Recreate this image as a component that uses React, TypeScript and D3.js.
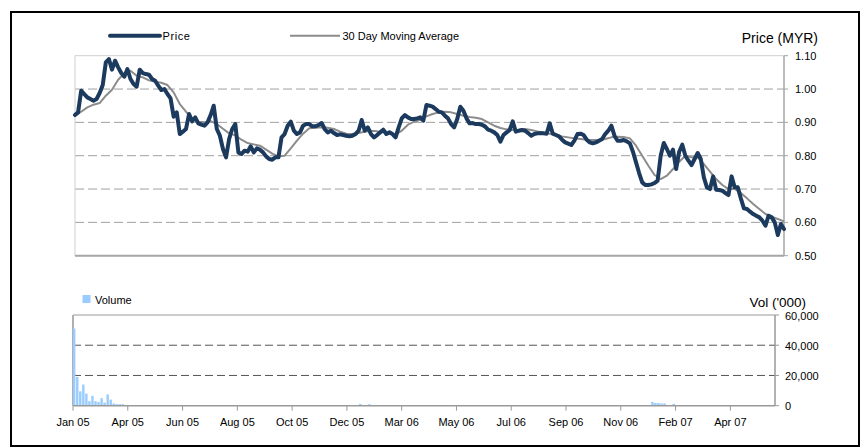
import React from 'react';
import * as d3 from 'd3';

// daily closing price (MYR), one value per step on the category axis
const priceValues = [
  0.922, 0.930, 0.995, 0.985, 0.975, 0.970, 0.965, 0.970, 0.988, 1.012,
  1.080, 1.090, 1.058, 1.085, 1.065, 1.048, 1.037, 1.060, 1.030, 1.015,
  1.007, 1.058, 1.048, 1.045, 1.043, 1.030, 1.025, 1.010, 0.997, 1.000,
  0.985, 0.972, 0.917, 0.930, 0.865, 0.872, 0.880, 0.925, 0.903, 0.915,
  0.897, 0.893, 0.890, 0.900, 0.922, 0.950, 0.880, 0.860, 0.820, 0.795,
  0.850, 0.880, 0.895, 0.810, 0.805, 0.815, 0.812, 0.828, 0.810, 0.822,
  0.818, 0.810, 0.798, 0.790, 0.788, 0.795, 0.795, 0.855, 0.865, 0.890,
  0.902, 0.875, 0.865, 0.870, 0.890, 0.895, 0.895, 0.888, 0.888, 0.892,
  0.898, 0.880, 0.870, 0.875, 0.868, 0.862, 0.864, 0.862, 0.860, 0.858,
  0.860, 0.865, 0.875, 0.907, 0.875, 0.885, 0.865, 0.855, 0.862, 0.870,
  0.878, 0.865, 0.870, 0.865, 0.855, 0.885, 0.912, 0.922, 0.915, 0.910,
  0.910, 0.912, 0.915, 0.905, 0.952, 0.950, 0.947, 0.940, 0.932, 0.930,
  0.920, 0.912, 0.895, 0.885, 0.910, 0.947, 0.935, 0.912, 0.897, 0.898,
  0.895, 0.895, 0.893, 0.888, 0.878, 0.875, 0.870, 0.862, 0.842, 0.862,
  0.870, 0.877, 0.903, 0.872, 0.875, 0.877, 0.875, 0.868, 0.860, 0.865,
  0.867, 0.867, 0.867, 0.866, 0.897, 0.866, 0.862, 0.858, 0.848, 0.840,
  0.836, 0.832, 0.845, 0.865, 0.866, 0.862, 0.848, 0.840, 0.837, 0.840,
  0.845, 0.850, 0.865, 0.875, 0.890, 0.860, 0.845, 0.845, 0.847, 0.843,
  0.837, 0.812, 0.780, 0.748, 0.720, 0.712, 0.712, 0.714, 0.718, 0.725,
  0.800, 0.838, 0.820, 0.800, 0.818, 0.760, 0.812, 0.833, 0.800, 0.785,
  0.772, 0.790, 0.808, 0.790, 0.735, 0.705, 0.700, 0.738, 0.698, 0.697,
  0.695, 0.688, 0.682, 0.738, 0.705, 0.705, 0.672, 0.642, 0.640, 0.632,
  0.625, 0.620, 0.615, 0.605, 0.590, 0.620, 0.615, 0.600, 0.562, 0.595,
  0.580,
];

// 30 day moving average, read every second step
const maValues = [
  0.920, 0.932, 0.945, 0.953, 0.958, 0.980, 0.998, 1.028, 1.047, 1.055,
  1.040, 1.035, 1.026, 1.022, 1.019, 1.012, 0.990, 0.955, 0.932, 0.912,
  0.902, 0.900, 0.904, 0.895, 0.881, 0.867, 0.861, 0.848, 0.838, 0.834,
  0.830, 0.818, 0.806, 0.798, 0.800, 0.822, 0.845, 0.866, 0.882, 0.884,
  0.885, 0.884, 0.880, 0.872, 0.866, 0.865, 0.868, 0.872, 0.875, 0.873,
  0.870, 0.867, 0.863, 0.875, 0.893, 0.902, 0.908, 0.918, 0.925, 0.930,
  0.932, 0.930, 0.925, 0.920, 0.916, 0.914, 0.910, 0.900, 0.890, 0.883,
  0.879, 0.877, 0.878, 0.880, 0.877, 0.873, 0.870, 0.866, 0.862, 0.858,
  0.855, 0.852, 0.850, 0.848, 0.847, 0.848, 0.850, 0.855, 0.857, 0.856,
  0.852, 0.830, 0.800, 0.770, 0.742, 0.730, 0.740, 0.760, 0.782, 0.800,
  0.795, 0.795, 0.775, 0.752, 0.730, 0.712, 0.700, 0.700, 0.688, 0.672,
  0.655, 0.640, 0.625, 0.617, 0.610, 0.603,
];

// volume ('000), only the days with visible bars
const volumeDays = [0, 1, 2, 3, 4, 5, 6, 7, 8, 9, 10, 11, 12, 13, 14, 15, 16, 94, 97, 190, 191, 192, 193, 194, 197];
const volumeValues = [51000, 19000, 9500, 14000, 8000, 3000, 6500, 3000, 2500, 5000, 2000, 7500, 4000, 1500, 1000, 1000, 1000, 1200, 1000, 2500, 1800, 1800, 1500, 1500, 1200];

const tickLabels = ['Jan 05', 'Apr 05', 'Jun 05', 'Aug 05', 'Oct 05', 'Dec 05', 'Mar 06', 'May 06', 'Jul 06', 'Sep 06', 'Nov 06', 'Feb 07', 'Apr 07'];
const tickEvery = 18;
const dayCount = 231;

const priceTicks = [0.5, 0.6, 0.7, 0.8, 0.9, 1.0, 1.1];
const volumeTicks = [0, 20000, 40000, 60000];

const FONT = '"Liberation Sans", Arial, sans-serif';
const NAVY = '#1c3a5e';
const GREY = '#8c8c8c';

export default function App() {
  const width = 863;
  const height = 448;

  // price panel
  const px = d3.scaleLinear().domain([0, priceValues.length - 1]).range([75, 784]);
  const py = d3.scaleLinear().domain([0.5, 1.1]).range([255.7, 55.7]);

  // volume panel
  const vx = d3.scaleLinear().domain([0, dayCount]).range([73, 776]);
  const vy = d3.scaleLinear().domain([0, 60000]).range([405.7, 315]);

  const priceLine = d3.line<number>()
    .x((_, i) => px(i))
    .y(d => py(d))
    .curve(d3.curveLinear);

  const maLine = d3.line<number>()
    .x((_, i) => px(i * 2))
    .y(d => py(d));

  const fmtVol = d3.format(',');

  return (
    <div style={{ position: 'fixed', left: 0, top: 0 }}>
      <svg width={width} height={height} style={{ display: 'block', background: '#fff' }} fontFamily={FONT}>
        <rect x={11} y={12} width={848} height={434} fill="#fff" stroke="#000" strokeWidth={2} />

        {/* legend */}
        <line x1={110} x2={160} y1={35.7} y2={35.7} stroke={NAVY} strokeWidth={4} strokeLinecap="round" />
        <text x={162.5} y={39.5} fontSize={11} letterSpacing={0.6} fill="#000">Price</text>
        <line x1={290} x2={340} y1={35.7} y2={35.7} stroke={GREY} strokeWidth={2} />
        <text x={342.5} y={39.5} fontSize={11} fill="#000">30 Day Moving Average</text>
        <text x={818} y={43} fontSize={14} textAnchor="end" fill="#000">Price (MYR)</text>

        {/* price grid */}
        {priceTicks.slice(1, -1).map(t => (
          <line key={t} x1={75} x2={784} y1={py(t)} y2={py(t)} stroke="#a0a0a0" strokeWidth={1} strokeDasharray="9,4" />
        ))}
        <line x1={75} x2={784} y1={py(1.1)} y2={py(1.1)} stroke="#cfcfcf" strokeWidth={1} />
        <line x1={75} x2={75} y1={py(1.1)} y2={py(0.5)} stroke="#cfcfcf" strokeWidth={1} />
        <line x1={75} x2={784} y1={py(0.5)} y2={py(0.5)} stroke="#a6a6a6" strokeWidth={2} />
        <line x1={784} x2={784} y1={py(1.1)} y2={py(0.5)} stroke="#a6a6a6" strokeWidth={1.5} />
        {priceTicks.map(t => (
          <g key={t}>
            <line x1={784} x2={788} y1={py(t)} y2={py(t)} stroke="#a6a6a6" strokeWidth={1} />
            <text x={795} y={py(t) + 4} fontSize={11} fill="#000">{t.toFixed(2)}</text>
          </g>
        ))}

        {/* price series */}
        <path d={maLine(maValues) || ''} fill="none" stroke={GREY} strokeWidth={2} strokeLinejoin="round" />
        <path d={priceLine(priceValues) || ''} fill="none" stroke={NAVY} strokeWidth={4} strokeLinejoin="round" strokeLinecap="round" />

        {/* volume legend and title */}
        <rect x={82.5} y={295} width={8} height={8} fill="#99ccff" />
        <text x={95} y={303.5} fontSize={11} fill="#000">Volume</text>
        <text x={806} y={306.5} fontSize={13.5} textAnchor="end" fill="#000">Vol ('000)</text>

        {/* volume grid */}
        {volumeTicks.slice(1, -1).map(t => (
          <line key={t} x1={73} x2={775} y1={vy(t)} y2={vy(t)} stroke="#555" strokeWidth={1} strokeDasharray="8,4" />
        ))}
        <line x1={73} x2={775} y1={vy(60000)} y2={vy(60000)} stroke="#999" strokeWidth={1} />
        <line x1={73} x2={73} y1={vy(60000)} y2={vy(0)} stroke="#b0b0b0" strokeWidth={2} />

        {/* volume bars */}
        {volumeDays.map((d, i) => (
          <rect key={d} x={vx(d)} y={vy(volumeValues[i])} width={2.4} height={vy(0) - vy(volumeValues[i])} fill="#99ccff" />
        ))}

        <line x1={73} x2={775} y1={vy(0)} y2={vy(0)} stroke="#999" strokeWidth={1.5} />
        <line x1={775} x2={775} y1={vy(60000)} y2={vy(0)} stroke="#999" strokeWidth={1.5} />
        {volumeTicks.map(t => (
          <g key={t}>
            <line x1={775} x2={779} y1={vy(t)} y2={vy(t)} stroke="#999" strokeWidth={1} />
            <text x={785} y={vy(t) + 4.5} fontSize={11} fill="#000">{fmtVol(t)}</text>
          </g>
        ))}

        {/* category axis */}
        {tickLabels.map((lab, k) => {
          const x = vx(k * tickEvery);
          return (
            <g key={lab}>
              <line x1={x} x2={x} y1={vy(0)} y2={vy(0) + 5} stroke="#999" strokeWidth={1} />
              <text x={x} y={426} fontSize={11} textAnchor="middle" fill="#000">{lab}</text>
            </g>
          );
        })}
      </svg>
    </div>
  );
}
